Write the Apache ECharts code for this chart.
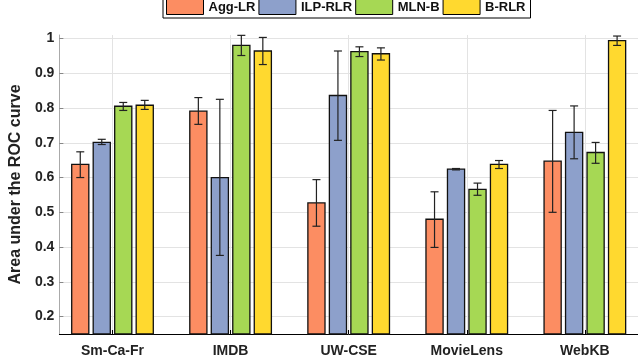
<!DOCTYPE html>
<html>
<head>
<meta charset="utf-8">
<script src="https://cdn.jsdelivr.net/npm/echarts@6/dist/echarts.min.js"></script>
<style>
  html, body { margin: 0; padding: 0; background: #fff; }
  #chart { width: 638px; height: 358px; }
</style>
</head>
<body>
<div id="chart"></div>
<script>
// datasets on the x axis, methods as the grouped bars
const categories = ['Sm-Ca-Fr', 'IMDB', 'UW-CSE', 'MovieLens', 'WebKB'];
const methods = ['Agg-LR', 'ILP-RLR', 'MLN-B', 'B-RLR'];
const yTicks = [0.2, 0.3, 0.4, 0.5, 0.6, 0.7, 0.8, 0.9, 1];

// mean AUC with lower / upper end of the error bar
const aggLR     = [0.638, 0.791, 0.527, 0.480, 0.647];
const aggLRLow  = [0.600, 0.753, 0.460, 0.399, 0.500];
const aggLRHigh = [0.674, 0.830, 0.594, 0.559, 0.793];

const ilpRLR     = [0.701, 0.600, 0.836, 0.624, 0.730];
const ilpRLRLow  = [0.695, 0.376, 0.707, 0.622, 0.654];
const ilpRLRHigh = [0.710, 0.825, 0.964, 0.626, 0.806];

const mlnB     = [0.805, 0.980, 0.962, 0.566, 0.672];
const mlnBLow  = [0.793, 0.951, 0.948, 0.549, 0.641];
const mlnBHigh = [0.816, 1.009, 0.976, 0.584, 0.701];

const bRLR     = [0.808, 0.964, 0.956, 0.638, 0.994];
const bRLRLow  = [0.796, 0.925, 0.938, 0.626, 0.980];
const bRLRHigh = [0.822, 1.003, 0.973, 0.649, 1.007];

const colors = ['#FC8D62', '#8DA0CB', '#A6D854', '#FFD92F'];
const yMin = 0.15;
const barW = 0.145;             // in category units
const offsets = [-0.273, -0.091, 0.091, 0.273];

function rows(mean, low, high) {
  return mean.map((v, i) => [i + 1, v, low[i], high[i]]);
}
const seriesData = [
  rows(aggLR, aggLRLow, aggLRHigh),
  rows(ilpRLR, ilpRLRLow, ilpRLRHigh),
  rows(mlnB, mlnBLow, mlnBHigh),
  rows(bRLR, bRLRLow, bRLRHigh)
];

function renderBar(params, api) {
  const x = api.value(0) + offsets[params.seriesIndex];
  const top = api.coord([x - barW / 2, api.value(1)]);
  const base = api.coord([x + barW / 2, yMin]);
  const hi = api.coord([x, api.value(3)]);
  const lo = api.coord([x, api.value(2)]);
  const cap = 4;
  const err = { stroke: '#222', lineWidth: 1.2 };
  return {
    type: 'group',
    children: [
      { type: 'rect',
        shape: { x: top[0], y: top[1], width: base[0] - top[0], height: base[1] - top[1] },
        style: { fill: api.visual('color'), stroke: '#111', lineWidth: 1.3 } },
      { type: 'line', shape: { x1: hi[0], y1: hi[1], x2: lo[0], y2: lo[1] }, style: err },
      { type: 'line', shape: { x1: hi[0] - cap, y1: hi[1], x2: hi[0] + cap, y2: hi[1] }, style: err },
      { type: 'line', shape: { x1: lo[0] - cap, y1: lo[1], x2: lo[0] + cap, y2: lo[1] }, style: err }
    ]
  };
}

const chart = echarts.init(document.getElementById('chart'), null, { renderer: 'canvas' });
const font = 'Liberation Sans, Arial, sans-serif';

chart.setOption({
  animation: false,
  color: colors,
  textStyle: { fontFamily: font },
  grid: { left: 48, right: 0, top: 35, bottom: 24 },
  legend: {
    data: methods.map((m) => ({
      name: m, icon: 'rect',
      itemStyle: { borderColor: '#000', borderWidth: 1 }
    })),
    left: 163, top: -4,
    padding: [3, 5, 3, 3],
    itemWidth: 37, itemHeight: 15, itemGap: 3,
    backgroundColor: '#fff',
    borderColor: '#000', borderWidth: 1,
    textStyle: { fontFamily: font, fontWeight: 'bold', fontSize: 13, color: '#111' }
  },
  xAxis: {
    type: 'value', min: 0.55, max: 5.45,
    axisLine: { show: true, lineStyle: { color: '#000', width: 1 } },
    axisTick: { show: true, inside: true, length: 4, customValues: [1, 2, 3, 4, 5],
                lineStyle: { color: '#000' } },
    axisLabel: {
      customValues: [1, 2, 3, 4, 5],
      formatter: (v) => categories[Math.round(v) - 1] || '',
      fontFamily: font, fontWeight: 'bold', fontSize: 14, color: '#222', margin: 10
    },
    splitLine: { show: true, lineStyle: { color: '#e3e3e3', width: 1 } }
  },
  yAxis: {
    type: 'value', min: yMin, max: 1.01,
    name: 'Area under the ROC curve',
    nameLocation: 'middle', nameGap: 29, nameRotate: 90,
    nameTextStyle: { fontFamily: font, fontWeight: 'bold', fontSize: 16, color: '#222' },
    axisLine: { show: true, lineStyle: { color: '#aaa', width: 1 } },
    axisTick: { show: true, inside: true, length: 4, customValues: yTicks,
                lineStyle: { color: '#888' } },
    axisLabel: {
      customValues: yTicks,
      formatter: (v) => String(+v.toFixed(1)),
      fontFamily: font, fontWeight: 'bold', fontSize: 14, color: '#222', margin: 5
    },
    splitLine: { show: true, lineStyle: { color: '#e3e3e3', width: 1 } }
  },
  series: methods.map((m, i) => ({
    name: m,
    type: 'custom',
    renderItem: renderBar,
    encode: { x: 0, y: 1 },
    itemStyle: { color: colors[i] },
    data: seriesData[i]
  }))
});
</script>
</body>
</html>
